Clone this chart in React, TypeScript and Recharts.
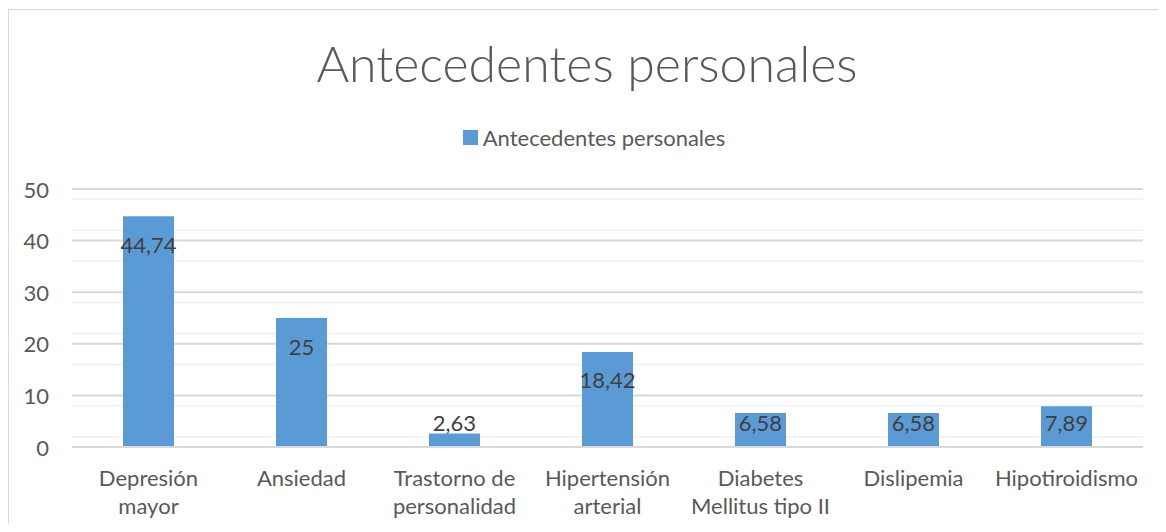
import React from 'react';
import { BarChart, Bar, XAxis, YAxis, CartesianGrid, Legend, LabelList } from 'recharts';

const chartTitle = 'Antecedentes personales';
const seriesName = 'Antecedentes personales';
const categories = [
  'Depresión mayor',
  'Ansiedad',
  'Trastorno de personalidad',
  'Hipertensión arterial',
  'Diabetes Mellitus tipo II',
  'Dislipemia',
  'Hipotiroidismo',
];
const categoryLines = [
  ['Depresión', 'mayor'],
  ['Ansiedad'],
  ['Trastorno de', 'personalidad'],
  ['Hipertensión', 'arterial'],
  ['Diabetes', 'Mellitus tipo II'],
  ['Dislipemia'],
  ['Hipotiroidismo'],
];
const values = [44.74, 25, 2.63, 18.42, 6.58, 6.58, 7.89];
const yTicks = [0, 10, 20, 30, 40, 50];
const minorTicks = [2, 4, 6, 8, 12, 14, 16, 18, 22, 24, 26, 28, 32, 34, 36, 38, 42, 44, 46, 48];

const data = categories.map((c, i) => ({ name: c, value: values[i] }));

const FONT = "Lato, 'Open Sans', sans-serif";
const TEXT = '#595959';
const BLUE = '#5B9BD5';
const FS = 22;

const W = 1158;
const H = 524;

const XTick = (props: any) => {
  const { x, y, payload } = props;
  const idx = categories.indexOf(payload.value);
  const lines = idx >= 0 ? categoryLines[idx] : [String(payload.value)];
  return (
    <g>
      {lines.map((l: string, i: number) => (
        <text
          key={i}
          x={x}
          y={y + 22 + i * 28}
          textAnchor="middle"
          dominantBaseline="central"
          fill={TEXT}
          fontSize={FS}
          fontFamily={FONT}
        >
          {l}
        </text>
      ))}
    </g>
  );
};

const YTick = (props: any) => {
  const { x, y, payload } = props;
  return (
    <text x={x} y={y} textAnchor="end" dominantBaseline="central" fill={TEXT} fontSize={FS} fontFamily={FONT}>
      {payload.value}
    </text>
  );
};

const BarLabel = (props: any) => {
  const { x, y, width, height, value } = props;
  const bottom = y + height;
  const cy = Math.min(y + 28, bottom - 25);
  return (
    <text
      x={x + width / 2}
      y={cy}
      textAnchor="middle"
      dominantBaseline="central"
      fill="#404040"
      fontSize={FS}
      fontFamily={FONT}
    >
      {String(value).replace('.', ',')}
    </text>
  );
};

const LegendContent = () => (
  <div
    style={{
      display: 'flex',
      justifyContent: 'center',
      alignItems: 'center',
      fontFamily: FONT,
      fontSize: FS,
      color: TEXT,
      paddingLeft: 14,
    }}
  >
    <span style={{ display: 'inline-block', width: 15, height: 15, background: BLUE, marginRight: 5 }} />
    <span>{seriesName}</span>
  </div>
);

export default function App() {
  return (
    <div style={{ position: 'relative', width: W, height: H, overflow: 'hidden', background: '#fff', marginBottom: -8 }}>
      <div
        style={{
          position: 'absolute',
          left: 0,
          top: 1,
          width: 3000,
          height: 3000,
          border: '1px solid #d9d9d9',
          boxSizing: 'border-box',
        }}
      />
      <div
        style={{
          position: 'absolute',
          left: 0,
          top: 20,
          width: W,
          textAlign: 'center',
          fontFamily: FONT,
          fontWeight: 300,
          fontSize: 50,
          color: TEXT,
          lineHeight: '70px',
        }}
      >
        {chartTitle}
      </div>
      <BarChart
        width={W}
        height={H}
        data={data}
        margin={{ top: 181, right: 23, bottom: 25, left: 0 }}
        style={{ position: 'absolute', left: 0, top: 0 }}
      >
        <CartesianGrid vertical={false} stroke="#f0f0f0" strokeWidth={1.5} horizontalValues={minorTicks} />
        <CartesianGrid vertical={false} stroke="#d9d9d9" strokeWidth={2} horizontalValues={yTicks} />
        <XAxis
          dataKey="name"
          height={60}
          axisLine={{ stroke: '#d9d9d9', strokeWidth: 2 }}
          tickLine={false}
          tick={<XTick />}
          interval={0}
        />
        <YAxis
          width={64}
          domain={[0, 50]}
          ticks={yTicks}
          axisLine={false}
          tickLine={false}
          tickSize={0}
          tickMargin={23}
          tick={<YTick />}
        />
        <Legend
          verticalAlign="middle"
          align="center"
          wrapperStyle={{ top: 116, left: 0, width: W }}
          content={<LegendContent />}
        />
        <Bar dataKey="value" name={seriesName} fill={BLUE} barSize={51} isAnimationActive={false}>
          <LabelList dataKey="value" content={<BarLabel />} />
        </Bar>
      </BarChart>
    </div>
  );
}
